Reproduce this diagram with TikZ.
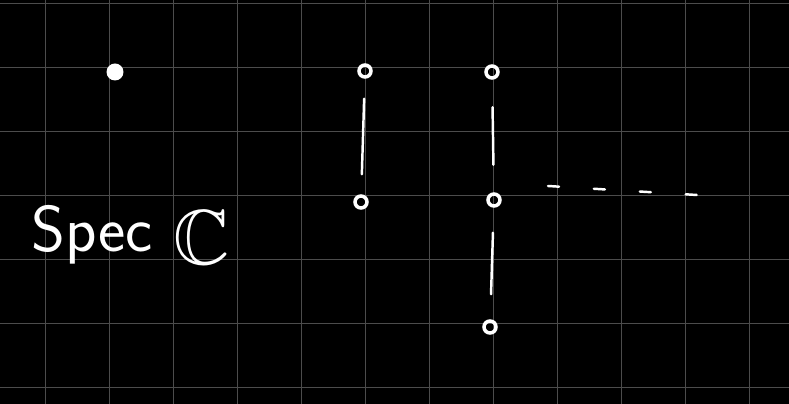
\documentclass[tikz,border=0pt]{standalone}
\usepackage{amssymb}
\usetikzlibrary{positioning}

\begin{document}
\begin{tikzpicture}[x=0.02cm, y=-0.02cm, line cap=round,
  gridline/.style={draw=white!30!black, line width=0.55pt},
  pt/.style={circle, draw=white, line width=2pt, inner sep=0pt, minimum size=0.24cm},
  bond/.style={draw=white, line width=1.4pt, shorten >=#1, shorten <=#1},
  bond/.default=0.5cm,
  trail/.style={draw=white, line width=1.4pt, dash pattern=on 0.22cm off 0.7cm}]
\useasboundingbox[fill=black] (0,0) rectangle (789,404);
% grid
\foreach \gx in {45,109,...,749} \draw[gridline] (\gx,0) -- (\gx,404);
\foreach \gy in {3,67,...,387} \draw[gridline] (0,\gy) -- (789,\gy);

% points
\node[circle, fill=white, inner sep=0pt, minimum size=0.34cm] (gen) at (115,72) {};
\node[pt] (a1) at (365,71) {};
\node[pt] (a0) at (361,202) {};
\node[pt] (b2) at (492,72) {};
\node[pt] (b1) at (494,200) {};
\node[pt] (b0) at (490,327) {};

\draw[bond=0.4cm] (a1) -- (a0);
\draw[bond=0.55cm] (b2) -- (b1);
\draw[bond] (b1) -- (b0);

\coordinate (tailA) at (548,186);
\coordinate (tailB) at (697,195);
\draw[trail] (tailA) -- (tailB);

\node[anchor=base west, text=white, inner sep=0pt, font=\sffamily\fontsize{37}{44}\selectfont] (spec) at (31,252)
  {Spec \raisebox{-0.25cm}{\scalebox{1.2}{$\mathbb{C}$}}};
\end{tikzpicture}
\end{document}
